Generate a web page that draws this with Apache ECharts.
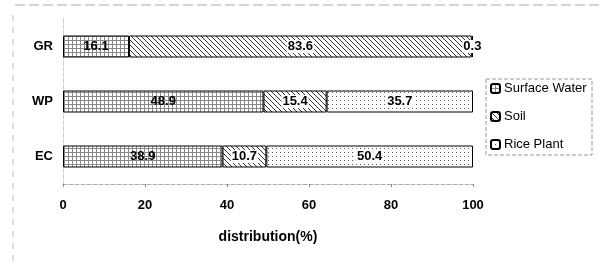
<!DOCTYPE html>
<html>
<head>
<meta charset="utf-8">
<script src="https://cdn.jsdelivr.net/npm/echarts@6/dist/echarts.min.js"></script>
<style>
  html, body { margin: 0; padding: 0; background: #fff; }
  #chart { width: 600px; height: 277px; }
</style>
</head>
<body>
<div id="chart"></div>
<script>
const categories = ['GR', 'WP', 'EC'];
const seriesNames = ['Surface Water', 'Soil', 'Rice Plant'];
const surfaceWater = [16.1, 48.9, 38.9];
const soil = [83.6, 15.4, 10.7];
const ricePlant = [0.3, 35.7, 50.4];

// little canvas tiles used as fill patterns
const makeTile = (size, draw) => {
    const c = document.createElement('canvas');
    c.width = size;
    c.height = size;
    const ctx = c.getContext('2d');
    ctx.fillStyle = '#fff';
    ctx.fillRect(0, 0, size, size);
    draw(ctx, size);
    return c;
};

const gridTile = makeTile(4, (ctx, s) => {
    ctx.fillStyle = '#888';
    ctx.fillRect(0, 0, s, 1);
    ctx.fillRect(0, 0, 1, s);
});
const diagTile = makeTile(5, (ctx, s) => {
    ctx.fillStyle = '#333';
    for (let i = 0; i < s; i++) ctx.fillRect(i, i, 1, 1);
});
const dotTile = makeTile(4, (ctx, s) => {
    ctx.fillStyle = '#555';
    ctx.fillRect(0, 0, 1, 1);
});

const patterns = [gridTile, diagTile, dotTile];
const values = [surfaceWater, soil, ricePlant];

const labelFont = {
    fontFamily: 'Liberation Sans, Arial, sans-serif',
    fontWeight: 'bold',
    fontSize: 13,
    color: '#000'
};

const chart = echarts.init(document.getElementById('chart'));

const option = {
    animation: false,
    backgroundColor: '#fff',
    graphic: [
        {
            type: 'line',
            shape: { x1: 15, y1: 5, x2: 600, y2: 5 },
            style: { stroke: '#aaa', lineWidth: 1, lineDash: [10, 4] }
        },
        {
            type: 'line',
            shape: { x1: 13, y1: 15, x2: 13, y2: 265 },
            style: { stroke: '#bbb', lineWidth: 1, lineDash: [6, 6] }
        },
        {
            type: 'rect',
            shape: { x: 486, y: 79, width: 106, height: 76 },
            style: { fill: 'none', stroke: '#999', lineWidth: 1, lineDash: [4, 2] }
        }
    ],
    grid: {
        left: 63,
        right: 127,
        top: 19,
        bottom: 93
    },
    legend: {
        orient: 'vertical',
        left: 490,
        top: 82,
        itemWidth: 9,
        itemHeight: 9,
        itemGap: 15,
        padding: 0,
        textStyle: {
            fontFamily: 'Liberation Sans, Arial, sans-serif',
            fontSize: 13,
            color: '#000',
            padding: [0, 0, 0, -1]
        },
        data: seriesNames
    },
    xAxis: {
        type: 'value',
        min: 0,
        max: 100,
        interval: 20,
        name: 'distribution(%)',
        nameLocation: 'middle',
        nameGap: 46,
        nameTextStyle: Object.assign({}, labelFont, { fontSize: 14 }),
        axisLine: { show: true, lineStyle: { color: '#aaa', type: 'dashed' } },
        axisTick: { show: true, length: 3, lineStyle: { color: '#888' } },
        axisLabel: Object.assign({ margin: 15 }, labelFont),
        splitLine: { show: false }
    },
    yAxis: {
        type: 'category',
        inverse: true,
        data: categories,
        axisLine: { show: true, lineStyle: { color: '#ccc', type: 'dashed' } },
        axisTick: { show: false },
        axisLabel: Object.assign({ margin: 10 }, labelFont)
    },
    series: seriesNames.map((name, i) => ({
        name: name,
        type: 'bar',
        stack: 'total',
        barWidth: 22,
        data: values[i],
        itemStyle: {
            color: { image: patterns[i], repeat: 'repeat' },
            borderColor: '#000',
            borderWidth: 1
        },
        label: Object.assign({
            show: true,
            position: 'inside',
            backgroundColor: i === 0 ? 'transparent' : '#fff',
            padding: [0, 1]
        }, labelFont)
    }))
};

chart.setOption(option);
</script>
</body>
</html>
